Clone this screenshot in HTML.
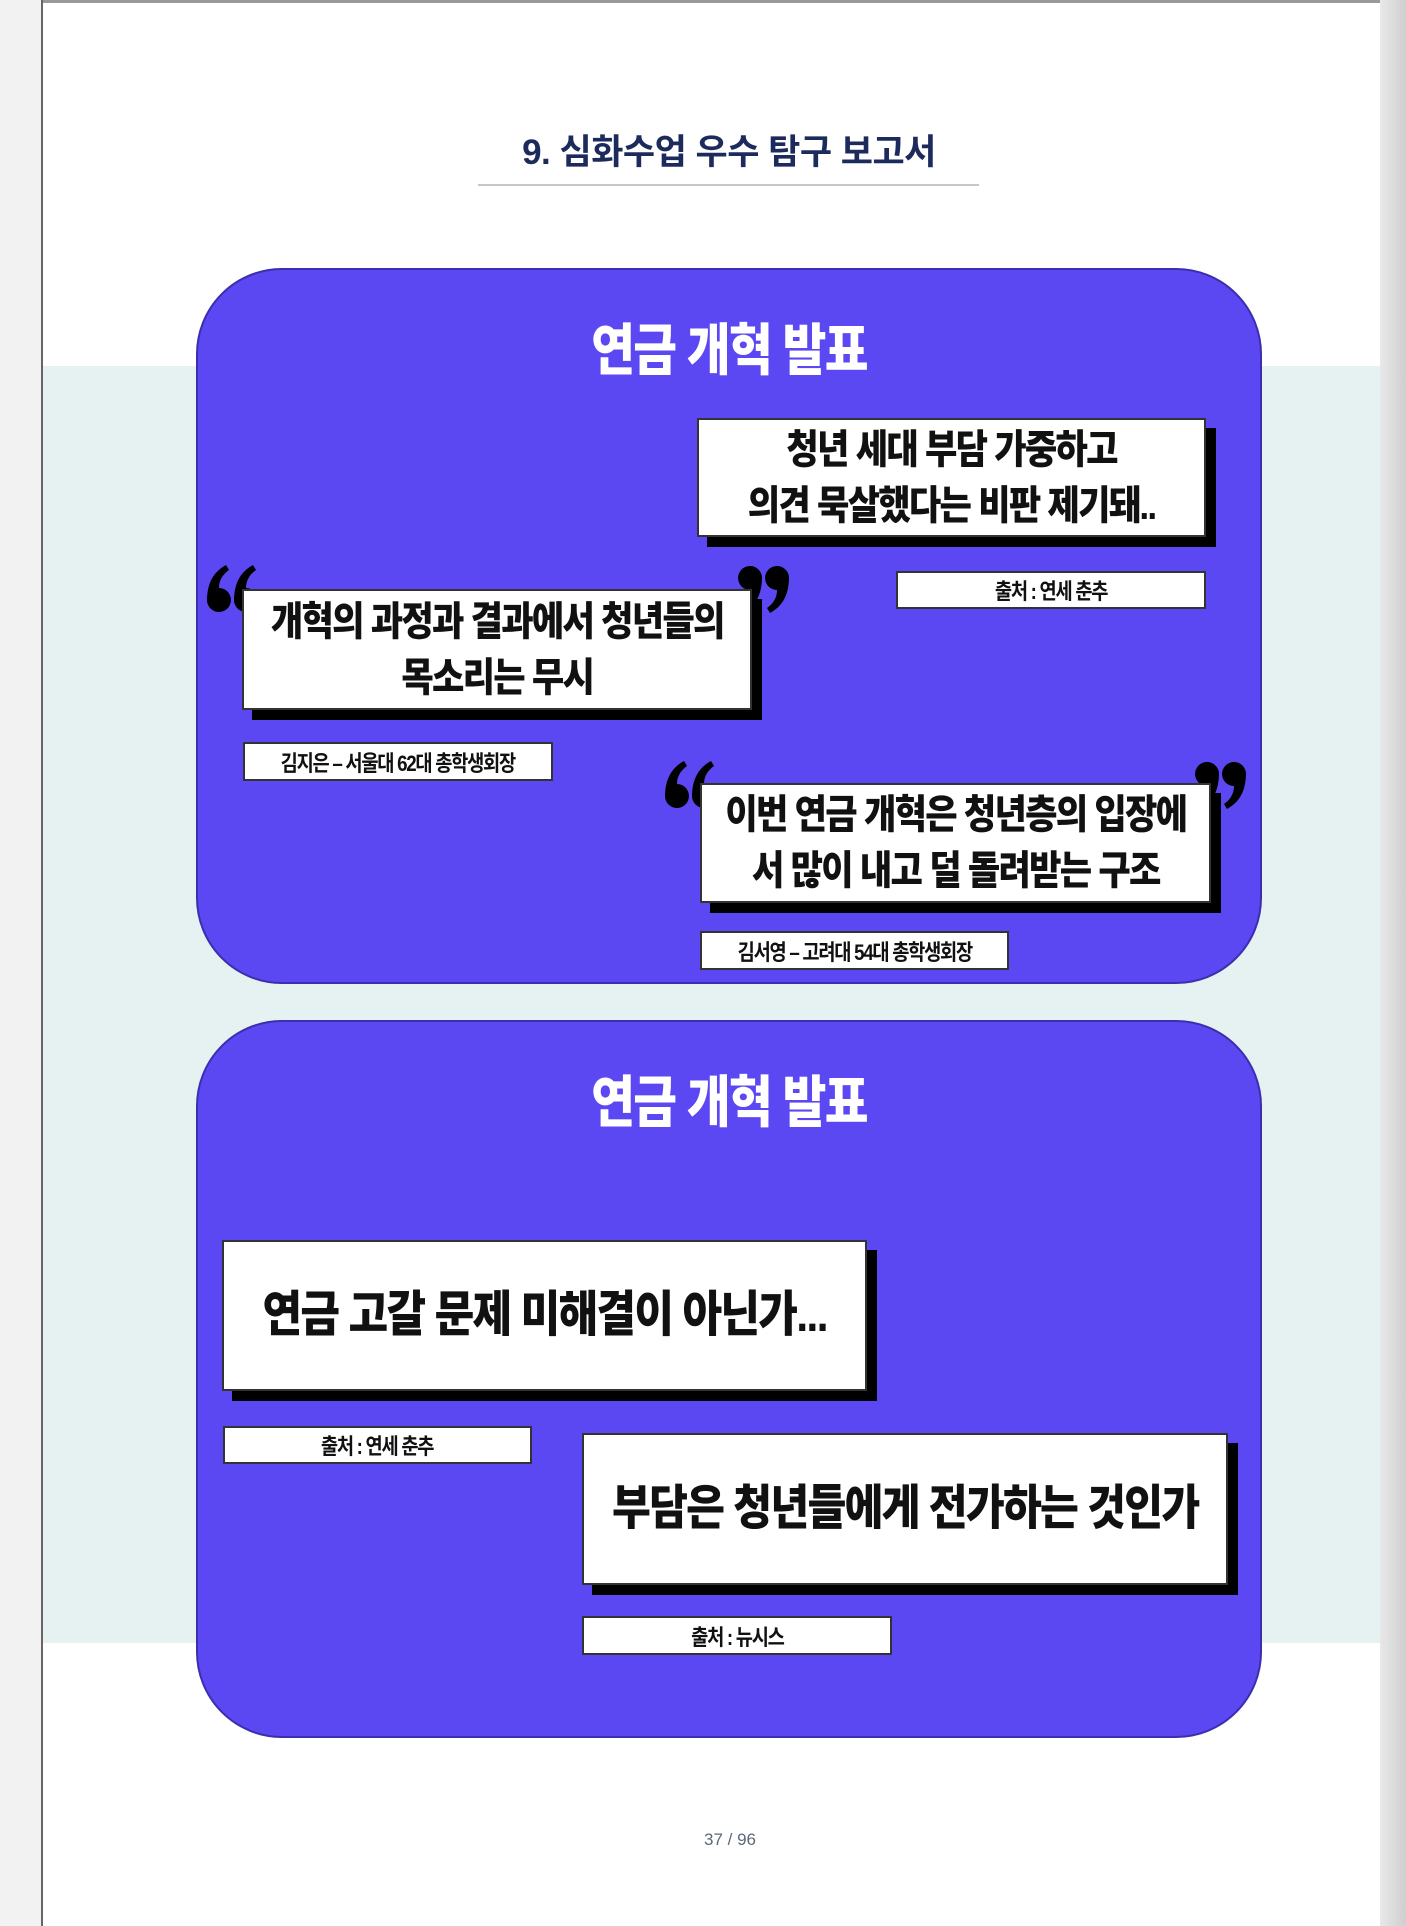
<!DOCTYPE html>
<html><head><meta charset="utf-8"><style>
*{margin:0;padding:0;box-sizing:border-box}
body{width:1406px;height:1926px;position:relative;background:#fff;overflow:hidden;font-family:"Liberation Sans","Noto Sans CJK KR",sans-serif}
.a{position:absolute}
.card{position:absolute;left:196px;width:1066px;background:#5c48f2;border-radius:86px;border:2px solid #3b2fb0}
.ct{position:absolute;left:0;width:100%;text-align:center;color:#fff;font-weight:900;font-size:56px;letter-spacing:-2px;transform:scaleX(.85)}
.box{position:absolute;background:#fff;border:2px solid #333;box-shadow:10px 10px 0 #000;display:flex;align-items:center;justify-content:center;text-align:center;font-weight:900;color:#111;letter-spacing:-2px;line-height:1.4;white-space:nowrap}
.box span{display:inline-block;transform:scaleX(.88)}
.lab{position:absolute;background:#fff;border:2px solid #333;display:flex;align-items:center;justify-content:center;font-weight:700;font-size:22px;color:#111;letter-spacing:-1.5px;white-space:nowrap}
.lab span{display:inline-block;transform:scaleX(.85)}
svg.q{position:absolute;width:54px;height:50px}
</style></head><body>
<svg width="0" height="0" style="position:absolute"><defs>
<path id="g" d="M1,37 C1,20 7,8 20,1 L23,6 C16,11 13,17 13,24 A12,12 0 1 1 1,37Z"/>
<g id="oq"><use href="#g"/><use href="#g" x="27"/></g>
</defs></svg>
<div class="a" style="left:0;top:0;width:43px;height:1926px;background:#f2f2f2;border-right:2px solid #666"></div>
<div class="a" style="left:1380px;top:0;width:26px;height:1926px;background:linear-gradient(90deg,#e8e8e8,#cfcfcf)"></div>
<div class="a" style="left:43px;top:0;width:1337px;height:3px;background:#999"></div>
<div class="a" style="left:43px;top:366px;width:1337px;height:1277px;background:#e6f2f2"></div>
<div class="a" style="left:0;top:124px;width:1458px;text-align:center;font-size:35px;font-weight:700;color:#1c2b5c;letter-spacing:-0.5px">9. 심화수업 우수 탐구 보고서</div>
<div class="a" style="left:478px;top:184px;width:501px;height:2px;background:#c4c8cc"></div>

<div class="card" style="top:268px;height:716px">
<div class="ct" style="top:36px">연금 개혁 발표</div>
</div>
<div class="box" style="left:697px;top:418px;width:509px;height:119px;font-size:40px"><span>청년 세대 부담 가중하고<br>의견 묵살했다는 비판 제기돼..</span></div>
<div class="lab" style="left:896px;top:571px;width:310px;height:38px"><span>출처 : 연세 춘추</span></div>
<svg class="q" style="left:206px;top:564px" viewBox="0 0 54 50"><use href="#oq"/></svg>
<svg class="q" style="left:736px;top:564px" viewBox="0 0 54 50"><use href="#oq" transform="rotate(180 27 25)"/></svg>
<div class="box" style="left:242px;top:589px;width:510px;height:121px;font-size:40px"><span>개혁의 과정과 결과에서 청년들의<br>목소리는 무시</span></div>
<div class="lab" style="left:243px;top:742px;width:310px;height:39px"><span>김지은 – 서울대 62대 총학생회장</span></div>
<svg class="q" style="left:664px;top:760px" viewBox="0 0 54 50"><use href="#oq"/></svg>
<svg class="q" style="left:1193px;top:760px" viewBox="0 0 54 50"><use href="#oq" transform="rotate(180 27 25)"/></svg>
<div class="box" style="left:700px;top:783px;width:511px;height:120px;font-size:40px"><span>이번 연금 개혁은 청년층의 입장에<br>서 많이 내고 덜 돌려받는 구조</span></div>
<div class="lab" style="left:700px;top:931px;width:309px;height:39px"><span>김서영 – 고려대 54대 총학생회장</span></div>

<div class="card" style="top:1020px;height:718px">
<div class="ct" style="top:36px">연금 개혁 발표</div>
</div>
<div class="box" style="left:222px;top:1240px;width:645px;height:151px;font-size:49px"><span>연금 고갈 문제 미해결이 아닌가...</span></div>
<div class="lab" style="left:223px;top:1426px;width:309px;height:38px"><span>출처 : 연세 춘추</span></div>
<div class="box" style="left:582px;top:1433px;width:646px;height:152px;font-size:48px"><span>부담은 청년들에게 전가하는 것인가</span></div>
<div class="lab" style="left:582px;top:1616px;width:310px;height:39px"><span>출처 : 뉴시스</span></div>

<div class="a" style="left:0;top:1830px;width:1460px;text-align:center;font-size:17px;color:#5a6a7a">37 / 96</div>
</body></html>
